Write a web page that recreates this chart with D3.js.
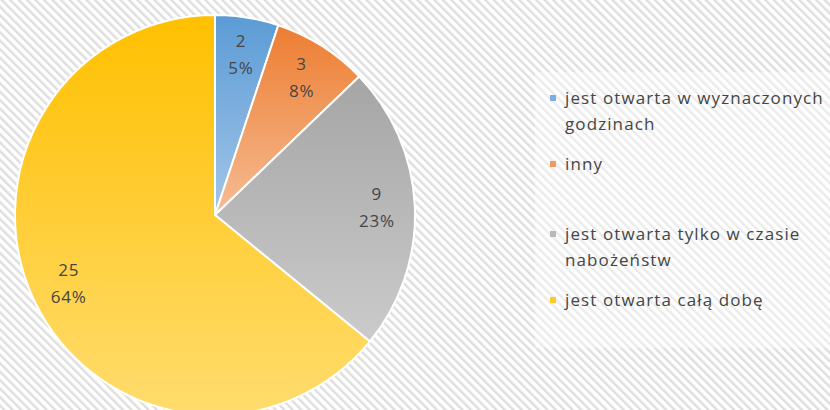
<!DOCTYPE html>
<html>
<head>
<meta charset="utf-8">
<script src="https://cdn.jsdelivr.net/npm/d3@7"></script>
<style>
  html, body { margin: 0; padding: 0; background: #fff; }
  svg { display: block; }
  text { font-family: "Open Sans", "Noto Sans", sans-serif; fill: #454545; }
</style>
</head>
<body>
<div id="chart"></div>
<script>
// chart values
const categories = [
  'jest otwarta w wyznaczonych godzinach',
  'inny',
  'jest otwarta tylko w czasie nabożeństw',
  'jest otwarta całą dobę'
];
const counts = [2, 3, 9, 25];
const percentLabels = ['5%', '8%', '23%', '64%'];
const legendLines = [
  ['jest otwarta w wyznaczonych', 'godzinach'],
  ['inny'],
  ['jest otwarta tylko w czasie', 'nabożeństw'],
  ['jest otwarta całą dobę']
];
const topColors = ['#5b9bd5', '#ed7d31', '#a5a5a5', '#ffc000'];
const bottomColors = ['#a3c6e9', '#f6bc94', '#cbcbcb', '#ffdc6e'];
const markerColors = ['#78aee0', '#f19a5f', '#b8b8b8', '#ffc928'];

const width = 830, height = 410;
const cx = 215, cy = 215, radius = 200;

const svg = d3.select('#chart').append('svg')
  .attr('width', width)
  .attr('height', height);

const defs = svg.append('defs');

// diagonal hatch background
const hatch = defs.append('pattern')
  .attr('id', 'hatch')
  .attr('patternUnits', 'userSpaceOnUse')
  .attr('width', 6)
  .attr('height', 6)
  .attr('patternTransform', 'rotate(-45)');
hatch.append('rect').attr('width', 6).attr('height', 6).attr('fill', '#ffffff');
hatch.append('rect').attr('width', 2.4).attr('height', 6).attr('fill', '#dedede');

svg.append('rect')
  .attr('width', width)
  .attr('height', height)
  .attr('fill', 'url(#hatch)');

// gradients, one per slice, top darker
categories.forEach((c, i) => {
  const g = defs.append('linearGradient')
    .attr('id', 'grad' + i)
    .attr('x1', 0).attr('y1', 0)
    .attr('x2', 0).attr('y2', 1);
  g.append('stop').attr('offset', '0%').attr('stop-color', topColors[i]);
  g.append('stop').attr('offset', '100%').attr('stop-color', bottomColors[i]);
});

const pie = d3.pie().sort(null).value(d => d)(counts);
const arc = d3.arc().innerRadius(0).outerRadius(radius);
const labelArc = d3.arc().innerRadius(radius * 0.81).outerRadius(radius * 0.81);

const gPie = svg.append('g')
  .attr('transform', `translate(${cx},${cy})`);

gPie.selectAll('path.slice')
  .data(pie)
  .enter()
  .append('path')
  .attr('class', 'slice')
  .attr('d', arc)
  .attr('fill', (d, i) => `url(#grad${i})`)
  .attr('stroke', '#ffffff')
  .attr('stroke-width', 2)
  .attr('stroke-linejoin', 'round');

const labels = gPie.selectAll('g.lbl')
  .data(pie)
  .enter()
  .append('g')
  .attr('class', 'lbl')
  .attr('transform', d => `translate(${labelArc.centroid(d)})`);

labels.append('text')
  .attr('text-anchor', 'middle')
  .attr('y', -8)
  .style('font-size', '17px')
  .style('letter-spacing', '0.8px')
  .text((d, i) => counts[i]);

labels.append('text')
  .attr('text-anchor', 'middle')
  .attr('y', 19)
  .style('font-size', '17px')
  .style('letter-spacing', '0.8px')
  .text((d, i) => percentLabels[i]);

// legend
svg.append('rect')
  .attr('x', 535)
  .attr('y', 72)
  .attr('width', 295)
  .attr('height', 276)
  .attr('fill', '#ffffff')
  .attr('opacity', 0.4);

const legendTop = [104, 170, 240, 306];
const legend = svg.append('g').attr('class', 'legend');

const items = legend.selectAll('g.item')
  .data(categories)
  .enter()
  .append('g')
  .attr('class', 'item')
  .attr('transform', (d, i) => `translate(550,${legendTop[i]})`);

items.append('rect')
  .attr('x', 0)
  .attr('y', -9)
  .attr('width', 6)
  .attr('height', 6)
  .attr('fill', (d, i) => markerColors[i]);

items.each(function(d, i) {
  const t = d3.select(this).append('text')
    .attr('x', 15)
    .style('font-size', '17px')
    .style('letter-spacing', '1.1px');
  legendLines[i].forEach((line, j) => {
    t.append('tspan')
      .attr('x', 15)
      .attr('dy', j === 0 ? 0 : 26)
      .text(line);
  });
});
</script>
</body>
</html>
